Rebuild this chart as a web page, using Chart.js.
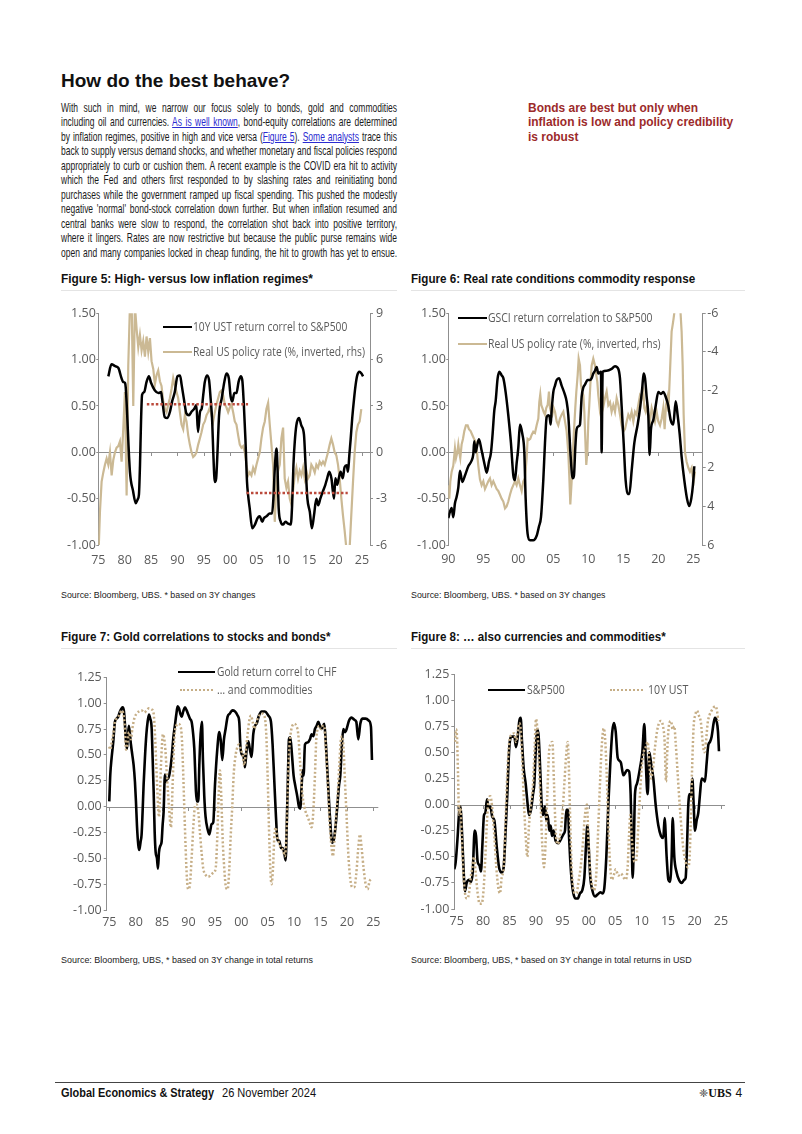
<!DOCTYPE html>
<html><head><meta charset="utf-8">
<script src="https://cdn.jsdelivr.net/npm/chart.js@4.4.0/dist/chart.umd.min.js"></script>
<style>
html,body{margin:0;padding:0;background:#fff}
body{width:802px;height:1134px;position:relative;overflow:hidden;font-family:'Liberation Sans',Arial,sans-serif;color:#1e1e1e}
.abs{position:absolute;white-space:nowrap;transform-origin:0 50%}
.h1{font-weight:bold;font-size:19px;line-height:19px;color:#111}
#body{position:absolute;left:61px;top:100.75px;transform-origin:0 0;font-family:'Liberation Sans Narrow','Liberation Sans',Arial,sans-serif;font-size:13.2px;line-height:14.5px;color:#1a1a1a}
#body .ln{white-space:nowrap}
#body.fit .ln{white-space:normal;text-align:justify;text-align-last:justify}
#body a{color:#2a2ad0;text-decoration:underline}
#note{position:absolute;left:528px;top:100.75px;transform-origin:0 0;font-family:'Liberation Sans Narrow','Liberation Sans',Arial,sans-serif;font-weight:bold;font-size:13px;line-height:14.5px;color:#9c2a2a}
#note .ln{white-space:nowrap}
.ttl{font-family:'Liberation Sans Narrow','Liberation Sans',Arial,sans-serif;font-weight:bold;font-size:12.8px;line-height:12.8px;color:#111}
.src{font-size:8.6px;line-height:8.6px;color:#222}
.leg{font-family:'Open Sans','Liberation Sans',sans-serif;font-size:12px;line-height:12px;color:#5a5a5a}
.sep{position:absolute;height:1px;background:#e4e4e4}
.smp{position:absolute;height:0}
canvas{position:absolute}
.foot{font-size:12px;line-height:12px;color:#111}
</style></head>
<body>

<div class="abs h1" style="left:61px;top:70.5px" data-w="229">How do the best behave?</div>

<div id="body">
<div class="ln"><span>With such in mind, we narrow our focus solely to bonds, gold and commodities</span></div>
<div class="ln"><span>including oil and currencies. <a>As is well known</a>, bond-equity correlations are determined</span></div>
<div class="ln"><span>by inflation regimes, positive in high and vice versa (<a>Figure 5</a>). <a>Some analysts</a> trace this</span></div>
<div class="ln"><span>back to supply versus demand shocks, and whether monetary and fiscal policies respond</span></div>
<div class="ln"><span>appropriately to curb or cushion them. A recent example is the COVID era hit to activity</span></div>
<div class="ln"><span>which the Fed and others first responded to by slashing rates and reinitiating bond</span></div>
<div class="ln"><span>purchases while the government ramped up fiscal spending. This pushed the modestly</span></div>
<div class="ln"><span>negative 'normal' bond-stock correlation down further. But when inflation resumed and</span></div>
<div class="ln"><span>central banks were slow to respond, the correlation shot back into positive territory,</span></div>
<div class="ln"><span>where it lingers. Rates are now restrictive but because the public purse remains wide</span></div>
<div class="ln"><span>open and many companies locked in cheap funding, the hit to growth has yet to ensue.</span></div>
</div>

<div id="note">
<div class="ln"><span>Bonds are best but only when</span></div>
<div class="ln"><span id="noteW">inflation is low and policy credibility</span></div>
<div class="ln"><span>is robust</span></div>
</div>

<!-- Figure titles -->
<div class="abs ttl" style="left:61px;top:272.6px" data-w="252">Figure 5: High- versus low inflation regimes*</div>
<div class="abs ttl" style="left:411px;top:272.6px" data-w="284">Figure 6: Real rate conditions commodity response</div>
<div class="abs ttl" style="left:61px;top:630.6px" data-w="270">Figure 7: Gold correlations to stocks and bonds*</div>
<div class="abs ttl" style="left:411px;top:630.6px" data-w="255">Figure 8: … also currencies and commodities*</div>
<div class="sep" style="left:61px;top:290px;width:336px"></div>
<div class="sep" style="left:411px;top:290px;width:334px"></div>
<div class="sep" style="left:61px;top:648px;width:336px"></div>
<div class="sep" style="left:411px;top:648px;width:334px"></div>

<canvas id="c5" width="345" height="275" style="left:55px;top:300px;width:345px;height:275px"></canvas>
<canvas id="c6" width="340" height="275" style="left:405px;top:300px;width:340px;height:275px"></canvas>
<canvas id="c7" width="345" height="290" style="left:55px;top:650px;width:345px;height:290px"></canvas>
<canvas id="c8" width="340" height="290" style="left:405px;top:650px;width:340px;height:290px"></canvas>

<!-- legends -->
<div class="smp" style="left:163px;top:325.5px;width:29px;border-top:2.5px solid #000"></div>
<div class="abs leg" style="left:193px;top:320.7px" data-w="154.6">10Y UST return correl to S&amp;P500</div>
<div class="smp" style="left:163px;top:351.1px;width:29px;border-top:2.5px solid #cbb994"></div>
<div class="abs leg" style="left:193px;top:346.3px" data-w="171.6">Real US policy rate (%, inverted, rhs)</div>

<div class="smp" style="left:458px;top:316.5px;width:29px;border-top:2.5px solid #000"></div>
<div class="abs leg" style="left:488px;top:311.7px" data-w="164.6">GSCI return correlation to S&amp;P500</div>
<div class="smp" style="left:458px;top:342.5px;width:29px;border-top:2.5px solid #cbb994"></div>
<div class="abs leg" style="left:488px;top:337.7px" data-w="172.3">Real US policy rate (%, inverted, rhs)</div>

<div class="smp" style="left:178px;top:670.5px;width:37px;border-top:2.5px solid #000"></div>
<div class="abs leg" style="left:217px;top:665.7px" data-w="119.4">Gold return correl to CHF</div>
<div class="smp" style="left:180px;top:688.8px;width:33px;border-top:2.5px dotted #c6ae86"></div>
<div class="abs leg" style="left:217px;top:684px" data-w="95">… and commodities</div>

<div class="smp" style="left:488px;top:688.8px;width:37px;border-top:2.5px solid #000"></div>
<div class="abs leg" style="left:527px;top:684px" data-w="37.6">S&amp;P500</div>
<div class="smp" style="left:610px;top:688.8px;width:33px;border-top:2.5px dotted #c6ae86"></div>
<div class="abs leg" style="left:648px;top:684px" data-w="40.7">10Y UST</div>

<!-- sources -->
<div class="abs src" style="left:61px;top:590.7px" data-w="195">Source: Bloomberg, UBS. * based on 3Y changes</div>
<div class="abs src" style="left:411px;top:590.7px" data-w="195">Source: Bloomberg, UBS. * based on 3Y changes</div>
<div class="abs src" style="left:61px;top:955.7px" data-w="252">Source: Bloomberg, UBS, * based on 3Y change in total returns</div>
<div class="abs src" style="left:411px;top:955.7px" data-w="281">Source: Bloomberg, UBS, * based on 3Y change in total returns in USD</div>

<!-- footer -->
<div style="position:absolute;left:55px;top:1081.5px;width:690px;height:1px;background:#444"></div>
<div class="abs foot" style="left:61px;top:1087px;font-weight:bold" data-w="153">Global Economics &amp; Strategy</div>
<div class="abs foot" style="left:222px;top:1087px" data-w="94">26 November 2024</div>
<div class="abs foot" style="left:699px;top:1087px"><span style="font-family:'DejaVu Sans';font-size:11px;color:#333">❈</span><span style="font-family:'Liberation Serif',serif;font-weight:bold;font-size:12px">UBS</span><span style="margin-left:4px">4</span></div>

<script>
// ---------------- DATA ----------------
// Figure 5
const f5XTicks = [1975,1980,1985,1990,1995,2000,2005,2010,2015,2020,2025];
const f5YTicks = [-1,-0.5,0,0.5,1,1.5];
const f5Y2Ticks = [-6,-3,0,3,6,9];
const f5UstYears = [1976.9,1977.5,1978.2,1978.8,1979.4,1979.7,1980.05,1980.2,1981.0,1981.6,1982.1,1982.45,1982.7,1982.9,1983.1,1983.3,1983.7,1984.15,1984.6,1985.0,1985.7,1986.4,1986.9,1987.1,1987.6,1988.1,1988.6,1989.0,1989.5,1990.0,1990.5,1990.8,1991.3,1991.7,1992.2,1992.7,1993.2,1993.6,1993.9,1994.3,1994.6,1994.9,1995.2,1995.6,1996.0,1996.3,1996.6,1996.8,1997.1,1997.35,1997.6,1997.9,1998.4,1998.9,1999.3,1999.75,2000.1,2000.4,2000.8,2001.2,2001.6,2002.0,2002.3,2002.6,2002.9,2003.2,2003.4,2003.7,2004.2,2004.7,2005.2,2005.6,2006.1,2006.4,2006.9,2007.5,2007.95,2008.2,2008.5,2008.8,2009.0,2009.2,2009.6,2010.0,2010.5,2011.0,2011.5,2011.75,2012.0,2012.25,2012.55,2013.05,2013.5,2014.0,2014.3,2014.65,2015.1,2015.5,2015.9,2016.35,2016.7,2017.1,2017.6,2018.05,2018.4,2018.8,2019.2,2019.7,2019.95,2020.3,2020.6,2020.95,2021.35,2021.7,2022.1,2022.35,2022.6,2022.85,2023.15,2023.5,2023.8,2024.1,2024.5,2024.9,2025.2];
const f5UstCorr = [0.82,0.95,0.93,0.91,0.80,0.76,0.75,0.70,-0.21,-0.42,-0.55,-0.51,-0.46,-0.15,0.33,0.62,0.65,0.76,0.82,0.75,0.67,0.64,0.65,0.58,0.38,0.37,0.44,0.55,0.65,0.82,0.83,0.73,0.55,0.42,0.40,0.44,0.47,0.51,0.22,0.44,0.47,0.62,0.76,0.83,0.78,0.58,0.33,0.00,-0.32,-0.28,0.00,0.40,0.58,0.76,0.85,0.80,0.60,0.55,0.64,0.64,0.76,0.82,0.78,0.51,0.14,-0.32,-0.46,-0.60,-0.82,-0.78,-0.71,-0.69,-0.75,-0.71,-0.69,-0.66,-0.66,-0.50,-0.14,0.04,-0.21,-0.60,-0.75,-0.78,-0.75,-0.77,-0.78,-0.57,-0.14,0.11,0.29,0.37,0.29,0.19,-0.14,-0.50,-0.64,-0.82,-0.68,-0.50,-0.57,-0.50,-0.42,-0.35,-0.28,-0.21,-0.28,-0.50,-0.28,-0.35,-0.28,-0.21,-0.28,-0.16,-0.14,-0.21,-0.03,0.14,0.37,0.58,0.73,0.83,0.87,0.85,0.82];
const f5RateYears = [1975.00,1975.32,1975.63,1975.95,1976.26,1976.58,1976.89,1977.21,1977.53,1977.84,1978.16,1978.47,1978.79,1979.10,1979.42,1979.73,1980.05,1980.37,1980.68,1981.00,1981.31,1981.63,1981.94,1982.26,1982.58,1982.89,1983.21,1983.52,1983.84,1984.15,1984.47,1984.79,1985.10,1985.42,1985.73,1986.05,1986.36,1986.68,1986.99,1987.31,1987.63,1987.94,1988.26,1988.57,1988.89,1989.20,1989.52,1989.84,1990.15,1990.47,1990.78,1991.10,1991.41,1991.73,1992.05,1992.36,1992.68,1992.99,1993.31,1993.62,1993.94,1994.26,1994.57,1994.89,1995.20,1995.52,1995.83,1996.15,1996.46,1996.78,1997.10,1997.41,1997.73,1998.04,1998.36,1998.67,1998.99,1999.31,1999.62,1999.94,2000.25,2000.57,2000.88,2001.20,2001.52,2001.83,2002.15,2002.46,2002.78,2003.09,2003.41,2003.72,2004.04,2004.36,2004.67,2004.99,2005.30,2005.62,2005.93,2006.25,2006.57,2006.88,2007.20,2007.51,2007.83,2008.14,2008.46,2008.78,2009.09,2009.41,2009.72,2010.04,2010.35,2010.67,2010.98,2011.30,2011.62,2011.93,2012.25,2012.56,2012.88,2013.19,2013.51,2013.83,2014.14,2014.46,2014.77,2015.09,2015.40,2015.72,2016.04,2016.35,2016.67,2016.98,2017.30,2017.61,2017.93,2018.24,2018.56,2018.88,2019.19,2019.51,2019.82,2020.14,2020.45,2020.77,2021.09,2021.40,2021.72,2022.03,2022.35,2022.66,2022.98,2023.30,2023.61,2023.93,2024.24,2024.56,2024.87];
const f5Rate = [-7.0,-3.8,-1.9,-1.3,-0.8,-0.4,-0.8,0.0,-1.5,-0.5,0.0,0.3,0.4,0.7,-0.6,1.5,3.9,-2.8,5.6,9.5,10.0,3.0,9.5,8.0,6.8,7.6,6.6,7.2,6.2,7.5,6.5,7.4,5.9,5.4,4.4,5.0,5.3,4.6,4.3,3.3,2.8,2.6,3.1,3.5,4.1,4.8,4.3,3.9,3.5,2.6,1.8,1.5,2.4,2.0,1.1,0.5,0.0,-0.3,-0.2,0.0,0.5,0.9,1.3,1.8,2.0,2.4,2.6,2.9,2.4,2.0,2.6,3.1,3.5,3.9,4.0,3.7,3.1,2.9,2.6,2.9,3.1,2.6,2.0,1.8,1.1,0.5,0.3,0.4,0.0,-0.8,-1.5,-1.3,-1.5,-1.0,-1.3,-0.8,-0.4,0.0,0.9,1.6,2.0,2.8,3.2,1.8,0.5,-0.8,-4.5,-1.9,-1.2,-0.8,0.9,1.6,-1.7,-2.3,-1.9,-3.0,-3.4,-2.5,-1.5,-1.0,-1.7,-1.2,-1.5,-1.0,-1.7,-1.2,-1.7,-1.5,-0.8,-1.0,-1.3,-0.8,-1.0,-0.6,-0.8,-0.6,-0.8,-0.4,0.0,0.5,0.9,0.5,0.0,-0.2,-0.8,-1.7,-3.0,-4.1,-5.1,-6.2,-7.0,-6.2,-4.0,-1.9,0.0,1.3,1.8,2.0,2.8];
const f5HighYears = [1984.2, 2003.4];
const f5HighAvg = [0.52, 0.52];
const f5LowYears = [2003.1, 2022.3];
const f5LowAvg = [-0.44, -0.44];

// Figure 6
const f6XTicks = [1990,1995,2000,2005,2010,2015,2020,2025];
const f6Y2Ticks = [-6,-4,-2,0,2,4,6];
const f6GsciYears = [1990.00,1990.24,1990.48,1990.71,1990.95,1991.19,1991.43,1991.67,1992.00,1992.38,1992.86,1993.33,1993.57,1993.71,1993.90,1994.14,1994.38,1994.76,1995.24,1995.48,1995.81,1996.10,1996.33,1996.57,1996.76,1997.05,1997.29,1997.62,1997.86,1998.19,1998.57,1998.95,1999.29,1999.52,1999.76,2000.00,2000.24,2000.57,2000.86,2001.05,2001.33,2001.67,2002.14,2002.62,2002.95,2003.24,2003.57,2003.81,2004.05,2004.29,2004.48,2004.62,2004.76,2005.00,2005.24,2005.48,2005.81,2006.19,2006.67,2006.90,2007.14,2007.33,2007.48,2007.76,2007.95,2008.14,2008.33,2008.57,2008.81,2009.05,2009.29,2009.52,2009.90,2010.24,2010.48,2010.71,2010.95,2011.19,2011.43,2011.81,2011.90,2012.05,2012.62,2013.33,2013.81,2014.29,2014.52,2014.76,2015.05,2015.33,2015.62,2015.86,2016.19,2016.57,2017.05,2017.43,2017.71,2017.90,2018.10,2018.33,2018.57,2018.76,2018.95,2019.29,2019.62,2020.00,2020.38,2020.71,2021.05,2021.43,2021.76,2022.14,2022.48,2022.76,2023.05,2023.33,2023.71,2024.10,2024.43,2024.71,2024.95,2025.14];
const f6GsciCorr = [-0.71,-0.64,-0.60,-0.70,-0.55,-0.48,-0.38,-0.20,-0.32,-0.25,-0.15,-0.09,-0.02,0.12,0.00,0.08,0.14,0.02,-0.15,-0.22,-0.10,0.00,0.20,0.45,0.55,0.80,0.87,0.83,0.80,0.65,0.40,0.10,-0.25,-0.30,-0.12,0.05,0.30,0.20,0.00,-0.50,-0.88,-0.95,-0.95,-0.90,-0.80,-0.70,-0.30,0.10,0.38,0.40,0.38,0.30,0.45,0.65,0.72,0.78,0.80,0.72,0.62,0.55,0.40,0.15,-0.05,-0.28,-0.25,0.05,0.25,0.28,0.30,0.60,0.70,0.73,0.78,0.78,0.80,0.85,0.88,0.92,0.85,0.87,0.00,0.87,0.88,0.90,0.93,0.90,0.80,0.50,0.10,-0.30,-0.45,-0.45,-0.20,0.10,0.30,0.50,0.70,0.85,0.80,0.60,0.40,-0.03,0.25,0.35,0.50,0.65,0.63,0.65,0.60,0.50,0.35,0.30,0.55,0.40,0.20,-0.05,-0.30,-0.50,-0.58,-0.50,-0.35,-0.15];
const f6RateYears = [1990.00,1990.14,1990.29,1990.48,1990.71,1990.95,1991.10,1991.29,1991.43,1991.57,1991.71,1991.90,1992.10,1992.29,1992.52,1992.76,1992.95,1993.19,1993.43,1993.67,1993.90,1994.10,1994.29,1994.52,1994.76,1995.00,1995.24,1995.48,1995.71,1995.95,1996.19,1996.43,1996.67,1996.90,1997.14,1997.38,1997.62,1997.86,1998.10,1998.33,1998.57,1998.81,1999.05,1999.29,1999.52,1999.76,2000.00,2000.24,2000.48,2000.71,2000.95,2001.19,2001.33,2001.52,2001.71,2001.90,2002.14,2002.38,2002.62,2002.86,2003.00,2003.14,2003.29,2003.43,2003.62,2003.81,2004.00,2004.19,2004.38,2004.52,2004.67,2004.86,2005.05,2005.24,2005.48,2005.71,2005.95,2006.19,2006.43,2006.67,2006.90,2007.14,2007.29,2007.43,2007.62,2007.76,2007.95,2008.14,2008.29,2008.48,2008.62,2008.81,2008.95,2009.14,2009.29,2009.43,2009.57,2009.71,2009.86,2010.00,2010.14,2010.29,2010.48,2010.71,2010.95,2011.14,2011.29,2011.43,2011.62,2011.81,2012.00,2012.19,2012.38,2012.62,2012.86,2013.10,2013.33,2013.57,2013.81,2014.05,2014.29,2014.52,2014.76,2015.00,2015.24,2015.48,2015.71,2015.95,2016.19,2016.43,2016.67,2016.90,2017.14,2017.38,2017.62,2017.86,2018.00,2018.19,2018.38,2018.57,2018.81,2019.05,2019.29,2019.52,2019.76,2020.00,2020.24,2020.48,2020.71,2020.90,2021.10,2021.29,2021.43,2021.67,2021.90,2022.05,2022.19,2022.38,2022.62,2022.86,2023.10,2023.33,2023.48,2023.62,2023.81,2024.05,2024.29,2024.52,2024.76,2024.90,2025.05,2025.24];
const f6Rate = [2.9,3.6,2.7,2.2,1.9,1.0,1.5,1.2,0.8,1.2,1.5,0.8,0.5,0.1,-0.2,-0.2,0.0,0.1,0.3,0.5,0.65,1.2,1.9,2.6,2.9,2.7,3.1,2.9,2.7,2.55,2.9,2.7,2.9,3.1,3.2,3.4,3.6,3.75,4.1,4.0,3.75,3.4,3.1,2.9,2.7,2.9,2.55,2.9,3.2,2.7,2.55,1.5,0.5,0.55,0.5,0.3,0.13,0.2,-0.2,-0.55,-1.4,-1.8,-1.25,-1.1,-0.9,-0.75,-1.1,-1.25,-1.95,-1.1,-0.9,-0.75,-1.1,-0.9,-0.4,-0.2,-0.55,-0.75,-0.9,-0.4,0.1,1.2,2.5,3.9,2.7,1.5,0.1,-1.1,-1.95,-2.8,-3.65,-3.3,-2.3,-1.95,-1.75,-0.9,0.5,1.85,1.2,-0.4,-1.25,-2.3,-3.3,-3.65,-3.3,-2.8,-2.45,-1.75,-1.1,-1.6,-1.95,-1.25,-1.6,-1.95,-1.25,-1.4,-0.9,-1.25,-0.9,-1.6,-1.25,-0.75,-0.2,0.13,0.0,-0.4,-0.75,-0.55,-0.9,-0.4,-0.9,-0.75,-1.25,-1.75,-1.6,-1.95,-1.1,-0.9,-1.25,-0.75,-0.4,-1.1,-0.75,-0.4,-0.9,-0.4,-0.2,-0.55,-1.1,0.0,-1.25,-1.6,-0.9,-3.0,-5.05,-5.4,-5.75,-6.3,-6.8,-7.0,-6.5,-5.05,-3.3,-0.75,1.2,1.7,2.0,2.2,2.0,2.4,2.7,2.2];

// Figure 7
const f78XTicks = [1975,1980,1985,1990,1995,2000,2005,2010,2015,2020,2025];
const f78YTicks = [-1,-0.75,-0.5,-0.25,0,0.25,0.5,0.75,1,1.25];
const f7ChfYears = [1975.00,1975.19,1975.44,1975.76,1976.07,1976.39,1976.70,1977.02,1977.34,1977.53,1977.78,1977.97,1978.16,1978.35,1978.54,1978.72,1979.10,1979.36,1979.61,1979.86,1980.05,1980.24,1980.49,1980.68,1980.93,1981.12,1981.31,1981.50,1981.75,1982.01,1982.26,1982.51,1982.76,1983.02,1983.21,1983.40,1983.59,1983.78,1984.03,1984.22,1984.41,1984.66,1984.91,1985.10,1985.29,1985.54,1985.73,1985.92,1986.17,1986.49,1986.81,1987.12,1987.44,1987.69,1987.94,1988.19,1988.45,1988.70,1989.01,1989.33,1989.65,1989.96,1990.28,1990.59,1990.85,1991.10,1991.29,1991.41,1991.60,1991.86,1992.05,1992.30,1992.55,1992.74,1992.99,1993.24,1993.62,1993.94,1994.38,1994.70,1995.01,1995.45,1995.83,1996.09,1996.40,1996.72,1997.03,1997.41,1997.85,1998.29,1998.80,1999.30,1999.62,1999.81,2000.06,2000.38,2000.69,2001.01,2001.33,2001.64,2001.96,2002.27,2002.59,2002.90,2003.35,2003.85,2004.48,2005.11,2005.62,2005.93,2006.25,2006.57,2006.88,2007.20,2007.51,2007.83,2008.14,2008.40,2008.65,2008.84,2009.03,2009.28,2009.60,2009.91,2010.23,2010.60,2010.92,2011.17,2011.43,2011.62,2011.80,2012.06,2012.56,2013.00,2013.32,2013.64,2013.95,2014.27,2014.58,2014.90,2015.21,2015.72,2015.97,2016.35,2016.79,2017.23,2017.61,2017.93,2018.18,2018.50,2018.75,2019.06,2019.32,2019.63,2019.95,2020.39,2020.90,2021.40,2021.78,2022.16,2022.54,2022.92,2023.55,2024.18,2024.56,2024.75];
const f7ChfCorr = [0.05,0.31,0.47,0.63,0.82,0.85,0.87,0.92,0.95,0.96,0.92,0.79,0.63,0.56,0.69,0.78,0.60,0.50,0.40,0.24,0.05,-0.18,-0.37,-0.42,-0.34,-0.27,-0.05,0.21,0.47,0.69,0.82,0.89,0.85,0.76,0.47,0.15,-0.24,-0.44,-0.50,-0.60,-0.44,-0.38,-0.34,-0.18,-0.05,0.31,0.24,0.27,0.27,0.34,0.47,0.66,0.79,0.89,0.97,0.95,0.90,0.87,0.92,0.96,0.93,0.89,0.85,0.82,0.72,0.56,0.31,0.15,0.05,0.05,0.40,0.70,0.82,0.45,0.10,-0.10,-0.22,-0.27,-0.17,-0.15,0.20,0.55,0.72,0.65,0.45,0.65,0.75,0.87,0.90,0.93,0.92,0.88,0.82,0.60,0.50,0.50,0.38,0.55,0.63,0.55,0.48,0.70,0.78,0.80,0.88,0.92,0.92,0.88,0.82,0.60,0.25,-0.10,-0.33,-0.33,-0.40,-0.40,-0.45,-0.52,-0.10,0.30,0.65,0.67,0.50,0.30,0.20,0.10,0.00,-0.02,0.20,0.35,0.30,0.60,0.62,0.65,0.70,0.68,0.75,0.78,0.82,0.78,0.75,0.80,0.65,0.30,-0.10,-0.35,-0.30,-0.15,0.00,0.20,0.30,0.60,0.75,0.72,0.75,0.83,0.86,0.84,0.82,0.65,0.80,0.85,0.85,0.83,0.77,0.45];
const f7CmdYears = [1975.00,1975.19,1975.44,1975.76,1976.07,1976.39,1976.70,1977.02,1977.34,1977.65,1977.97,1978.16,1978.41,1978.72,1979.10,1979.36,1979.73,1980.18,1980.62,1981.12,1981.63,1982.07,1982.51,1983.02,1983.40,1983.65,1983.90,1984.15,1984.41,1984.79,1985.16,1985.54,1985.92,1986.30,1986.68,1986.99,1987.31,1987.69,1988.07,1988.45,1988.70,1988.95,1989.20,1989.46,1989.71,1989.96,1990.28,1990.59,1990.91,1991.22,1991.54,1991.86,1992.17,1992.49,1992.80,1993.24,1993.75,1994.26,1994.70,1995.14,1995.45,1995.71,1995.96,1996.21,1996.46,1996.78,1997.10,1997.41,1997.73,1997.98,1998.29,1998.55,1998.80,1999.12,1999.56,1999.94,2000.25,2000.57,2000.88,2001.20,2001.51,2001.83,2002.15,2002.46,2002.78,2003.09,2003.41,2003.85,2004.36,2004.73,2004.99,2005.24,2005.49,2005.74,2006.00,2006.25,2006.50,2006.82,2007.13,2007.51,2007.89,2008.27,2008.52,2008.77,2009.03,2009.34,2009.66,2010.04,2010.42,2010.79,2011.11,2011.43,2011.74,2012.18,2012.56,2012.94,2013.32,2013.64,2013.95,2014.20,2014.46,2014.77,2015.09,2015.40,2015.72,2015.97,2016.35,2016.73,2017.11,2017.36,2017.61,2017.93,2018.24,2018.56,2018.87,2019.13,2019.38,2019.63,2019.95,2020.26,2020.64,2021.02,2021.40,2021.78,2022.16,2022.47,2022.79,2023.17,2023.55,2023.93,2024.30,2024.56];
const f7CmdCorr = [0.58,0.55,0.62,0.70,0.82,0.85,0.87,0.90,0.93,0.90,0.75,0.55,0.60,0.72,0.65,0.75,0.85,0.90,0.92,0.93,0.91,0.93,0.95,0.94,0.90,0.70,0.40,0.10,-0.10,0.40,0.70,0.60,0.30,0.00,-0.20,0.20,0.65,0.78,0.80,0.78,0.70,0.40,0.00,-0.40,-0.70,-0.80,-0.75,-0.50,-0.20,0.00,0.02,-0.05,-0.25,-0.45,-0.60,-0.66,-0.68,-0.66,-0.64,-0.60,-0.30,0.10,0.35,0.10,-0.30,-0.60,-0.78,-0.80,-0.60,-0.30,0.00,0.30,0.45,0.55,0.60,0.55,0.50,0.40,0.55,0.70,0.83,0.88,0.82,0.75,0.80,0.85,0.88,0.90,0.88,0.70,0.30,-0.20,-0.60,-0.75,-0.60,-0.30,-0.20,-0.30,-0.35,-0.40,-0.42,-0.48,-0.30,0.10,0.50,0.70,0.78,0.80,0.78,0.70,0.45,0.20,0.05,-0.05,-0.10,-0.15,-0.20,-0.05,0.30,0.65,0.75,0.78,0.75,0.78,0.78,0.60,0.25,-0.15,-0.40,-0.48,-0.35,-0.10,0.10,0.40,0.65,0.68,0.55,0.25,-0.10,-0.45,-0.70,-0.78,-0.78,-0.65,-0.40,-0.27,-0.40,-0.60,-0.75,-0.80,-0.72,-0.70];

// Figure 8
const f8SpxYears = [1974.56,1974.81,1975.19,1975.50,1975.69,1975.95,1976.20,1976.58,1976.89,1977.40,1977.71,1978.03,1978.40,1978.66,1978.97,1979.29,1979.60,1979.85,1980.17,1980.42,1980.74,1980.99,1981.37,1981.75,1982.12,1982.57,1983.01,1983.51,1983.89,1984.21,1984.58,1984.96,1985.40,1985.91,1986.22,1986.48,1986.85,1987.11,1987.36,1987.67,1988.05,1988.43,1988.68,1989.06,1989.44,1989.69,1989.94,1990.26,1990.51,1990.83,1991.08,1991.33,1991.71,1991.96,1992.21,1992.53,1992.78,1993.03,1993.35,1993.73,1994.23,1994.74,1995.24,1995.49,1995.74,1996.06,1996.25,1996.50,1996.75,1997.07,1997.51,1997.89,1998.33,1998.77,1999.15,1999.46,1999.72,1999.97,2000.28,2000.66,2001.17,2001.67,2002.18,2002.62,2002.93,2003.31,2003.69,2004.07,2004.44,2004.76,2005.08,2005.45,2005.77,2006.08,2006.53,2006.84,2007.22,2007.60,2007.91,2008.10,2008.29,2008.54,2008.73,2009.11,2009.68,2010.12,2010.50,2010.75,2011.00,2011.13,2011.44,2011.76,2012.20,2012.64,2013.15,2013.65,2014.09,2014.34,2014.72,2015.04,2015.35,2015.67,2015.86,2016.17,2016.61,2017.05,2017.56,2018.06,2018.32,2018.57,2018.82,2019.14,2019.32,2019.58,2019.83,2020.08,2020.40,2020.71,2021.03,2021.34,2021.66,2021.97,2022.29,2022.60,2022.92,2023.23,2023.61,2023.86,2024.18,2024.43,2024.62];
const f8SpxCorr = [-0.62,-0.55,-0.30,-0.05,-0.02,-0.20,-0.50,-0.83,-0.75,-0.72,-0.74,-0.65,-0.25,-0.30,-0.55,-0.58,-0.64,-0.40,-0.10,-0.08,0.05,-0.03,-0.02,-0.12,-0.15,-0.40,-0.60,-0.65,-0.60,-0.30,0.10,0.55,0.65,0.65,0.55,0.62,0.80,0.83,0.60,0.35,0.20,0.00,-0.10,-0.05,0.10,0.20,0.50,0.72,0.65,0.30,0.00,-0.10,-0.02,-0.15,-0.10,-0.25,-0.20,-0.30,-0.25,-0.35,-0.37,-0.33,-0.28,-0.25,-0.05,-0.05,-0.30,-0.55,-0.72,-0.85,-0.90,-0.90,-0.85,-0.82,-0.70,-0.40,-0.20,-0.40,-0.70,-0.82,-0.88,-0.86,-0.84,-0.85,-0.80,-0.50,0.00,0.40,0.70,0.78,0.70,0.45,0.42,0.40,0.28,0.30,0.33,0.32,0.10,-0.30,-0.70,-0.30,0.10,0.20,0.35,0.50,0.77,0.45,0.15,0.10,0.50,0.40,0.25,0.00,-0.20,-0.30,-0.32,-0.13,-0.50,-0.72,-0.74,-0.50,-0.13,-0.50,-0.65,-0.72,-0.75,-0.72,-0.70,-0.40,0.00,0.10,0.08,0.25,0.00,-0.25,-0.15,-0.08,0.10,0.25,0.24,0.22,0.40,0.57,0.60,0.65,0.78,0.83,0.80,0.70,0.51];
const f8UstYears = [1974.68,1974.87,1975.06,1975.25,1975.44,1975.69,1975.95,1976.26,1976.58,1976.95,1977.33,1977.65,1977.96,1978.28,1978.59,1978.97,1979.35,1979.73,1980.11,1980.42,1980.74,1981.05,1981.37,1981.75,1982.12,1982.50,1982.88,1983.20,1983.51,1983.89,1984.21,1984.58,1984.96,1985.40,1985.91,1986.22,1986.54,1986.85,1987.11,1987.42,1987.74,1988.05,1988.37,1988.68,1989.06,1989.44,1989.75,1990.01,1990.26,1990.57,1990.89,1991.20,1991.52,1991.83,1992.15,1992.47,1992.78,1993.10,1993.41,1993.73,1994.10,1994.55,1994.99,1995.37,1995.68,1996.00,1996.25,1996.50,1996.75,1997.07,1997.38,1997.70,1998.01,1998.45,1998.83,1999.27,1999.65,1999.90,2000.22,2000.54,2000.85,2001.17,2001.48,2001.80,2002.11,2002.43,2002.81,2003.06,2003.37,2003.69,2004.00,2004.32,2004.70,2005.08,2005.58,2006.08,2006.59,2006.97,2007.34,2007.60,2007.85,2008.10,2008.42,2008.73,2009.05,2009.36,2009.68,2009.99,2010.37,2010.75,2011.13,2011.44,2011.76,2012.14,2012.52,2012.90,2013.27,2013.65,2014.03,2014.34,2014.60,2014.91,2015.23,2015.54,2015.86,2016.17,2016.42,2016.80,2017.18,2017.56,2017.94,2018.32,2018.69,2019.01,2019.26,2019.51,2019.83,2020.15,2020.46,2020.84,2021.22,2021.53,2021.85,2022.16,2022.48,2022.86,2023.23,2023.61,2023.99,2024.30,2024.49];
const f8UstCorr = [0.60,0.72,0.65,0.30,-0.10,-0.02,-0.30,-0.65,-0.85,-0.90,-0.85,-0.70,-0.60,-0.50,-0.65,-0.85,-0.95,-0.95,-0.80,-0.50,-0.15,0.05,0.08,-0.05,-0.30,-0.60,-0.80,-0.85,-0.70,-0.60,-0.20,0.30,0.60,0.67,0.68,0.60,0.70,0.78,0.72,0.40,0.00,-0.30,-0.50,-0.20,0.00,0.20,0.55,0.82,0.72,0.40,0.00,-0.40,-0.60,-0.35,0.10,0.50,0.58,0.60,0.20,-0.25,-0.38,-0.30,-0.10,0.20,0.45,0.60,0.30,-0.20,-0.60,-0.80,-0.85,-0.85,-0.75,-0.60,-0.40,-0.10,0.00,-0.30,-0.60,-0.75,-0.82,-0.80,-0.60,-0.20,0.20,0.55,0.73,0.65,0.30,-0.20,-0.55,-0.72,-0.68,-0.62,-0.68,-0.66,-0.70,-0.72,-0.60,-0.30,-0.10,-0.30,-0.50,-0.55,-0.50,-0.20,0.10,0.35,0.50,0.55,0.60,0.40,0.25,0.35,0.55,0.70,0.78,0.80,0.75,0.60,0.22,0.60,0.78,0.80,0.72,0.75,0.60,0.30,0.00,-0.25,-0.45,-0.55,-0.60,-0.55,-0.20,0.30,0.75,0.86,0.90,0.85,0.78,0.60,0.50,0.60,0.78,0.86,0.90,0.93,0.94,0.88,0.80];

// ---------------- TEXT FITTING ----------------
function fitAll(){
  document.querySelectorAll('[data-w]').forEach(el=>{
    el.style.transform='none';
    const w=el.offsetWidth, t=parseFloat(el.dataset.w);
    if(w>0) el.style.transform='scaleX('+(t/w)+')';
  });
  const body=document.getElementById('body');
  body.classList.remove('fit'); body.style.transform='none'; body.style.width='auto';
  let mw=0; body.querySelectorAll('.ln > span').forEach(s=>{mw=Math.max(mw,s.offsetWidth);});
  if(mw>0){
    const s=336/(mw+2);
    body.style.width=(336/s)+'px';
    body.classList.add('fit');
    body.style.transform='scaleX('+s+')';
  }
  const note=document.getElementById('note');
  note.style.transform='none';
  const nw=document.getElementById('noteW').offsetWidth;
  if(nw>0) note.style.transform='scaleX('+(205/nw)+')';
}
fitAll();
if(document.fonts&&document.fonts.ready) document.fonts.ready.then(fitAll);

// ---------------- CHARTS ----------------
const AXIS='#8f8f8f', TC='#5a5a5a';
const TF={family:"'Open Sans','Liberation Sans',sans-serif", size:12.5};
const BEIGE='#cbb994', DOT='#c6ae86', RED='#bb4a3c';
function pts(xs,ys){const n=Math.min(xs.length,ys.length),o=[];for(let i=0;i<n;i++)o.push({x:xs[i],y:ys[i]});return o;}
const zeroLine={id:'zeroLine',beforeDatasetsDraw(chart){
  const {ctx,chartArea:a,scales}=chart; const y=Math.round(scales.y.getPixelForValue(0))+0.5;
  ctx.save(); ctx.strokeStyle=AXIS; ctx.lineWidth=1; ctx.beginPath();
  ctx.moveTo(a.left,y); ctx.lineTo(a.right,y);
  scales.x.ticks.forEach(t=>{const x=Math.round(scales.x.getPixelForValue(t.value))+0.5; ctx.moveTo(x,y); ctx.lineTo(x,y+3.5);});
  ctx.stroke(); ctx.restore();
}};
function yAxis(pos,min,max,ticks,width,tl,pad,fmt,rev){
  return {position:pos,min,max,reverse:!!rev,
    afterBuildTicks:s=>{s.ticks=ticks.map(v=>({value:v}));},
    afterFit:s=>{s.width=width;},
    border:{display:true,color:AXIS,width:1},
    grid:{display:true,drawOnChartArea:false,drawTicks:true,tickLength:tl,color:AXIS,lineWidth:1},
    ticks:{font:TF,color:TC,padding:pad,callback:fmt}};
}
function xAxis(min,max,ticks,height,pad){
  return {type:'linear',position:'bottom',min,max,
    afterBuildTicks:s=>{s.ticks=ticks.map(v=>({value:v}));},
    afterFit:s=>{s.height=height;},
    border:{display:false},grid:{display:false,drawTicks:false},
    ticks:{font:TF,color:TC,padding:pad,maxRotation:0,minRotation:0,autoSkip:false,
      callback:v=>String(Math.round(v)%100).padStart(2,'0')}};
}
const f2=v=>Number(v).toFixed(2), fi=v=>String(Math.round(v));
function line(data,color,width,axis,order,opts){return Object.assign({data,borderColor:color,backgroundColor:color,borderWidth:width,pointRadius:0,yAxisID:axis,order,fill:false,tension:0},opts||{});}
function base(padding,scales,datasets){
  return {type:'line',data:{datasets},options:{responsive:false,animation:false,devicePixelRatio:1,
    layout:{padding},plugins:{legend:{display:false},tooltip:{enabled:false}},scales},plugins:[zeroLine]};
}

new Chart(document.getElementById('c5'), base({top:13.3,left:0,right:0,bottom:0},{
  x:xAxis(1975,2026.52,f5XTicks,30,7.5),
  y:yAxis('left',-1,1.5,f5YTicks,43.3,2,0.5,f2),
  y2:yAxis('right',-6,9,f5Y2Ticks,30,3,3,fi)
},[
  line(pts(f5HighYears,f5HighAvg),RED,2.5,'y',0,{borderDash:[2.5,2]}),
  line(pts(f5LowYears,f5LowAvg),RED,2.5,'y',0,{borderDash:[2.5,2]}),
  line(pts(f5UstYears,f5UstCorr),'#000',2.5,'y',1,{cubicInterpolationMode:'monotone'}),
  line(pts(f5RateYears,f5Rate),BEIGE,2.2,'y2',2)
]));

new Chart(document.getElementById('c6'), base({top:13.3,left:0,right:0,bottom:0},{
  x:xAxis(1990,2026.34,f6XTicks,30,7),
  y:yAxis('left',-1,1.5,f5YTicks,43.3,2,0.5,f2),
  y2:yAxis('right',-6,6,f6Y2Ticks,42.3,3,1.5,fi,true)
},[
  line(pts(f6GsciYears,f6GsciCorr),'#000',2.5,'y',0,{cubicInterpolationMode:'monotone'}),
  line(pts(f6RateYears,f6Rate),BEIGE,2.2,'y2',1)
]));

new Chart(document.getElementById('c7'), base({top:27.3,left:0,right:21.7,bottom:0},{
  x:xAxis(1974.51,2025.95,f78XTicks,30,5),
  y:yAxis('left',-1,1.25,f78YTicks,51.7,3,2,f2)
},[
  line(pts(f7CmdYears,f7CmdCorr),DOT,2.5,'y',0,{borderDash:[2,2.2],cubicInterpolationMode:'monotone'}),
  line(pts(f7ChfYears,f7ChfCorr),'#000',2.6,'y',1,{cubicInterpolationMode:'monotone'})
]));

new Chart(document.getElementById('c8'), base({top:24,left:0,right:20,bottom:0},{
  x:xAxis(1974.55,2025.76,f78XTicks,31,4.5),
  y:yAxis('left',-1,1.25,f78YTicks,49.3,3,2,f2)
},[
  line(pts(f8UstYears,f8UstCorr),DOT,2.5,'y',0,{borderDash:[2,2.2],cubicInterpolationMode:'monotone'}),
  line(pts(f8SpxYears,f8SpxCorr),'#000',2.6,'y',1,{cubicInterpolationMode:'monotone'})
]));
</script>
</body></html>
